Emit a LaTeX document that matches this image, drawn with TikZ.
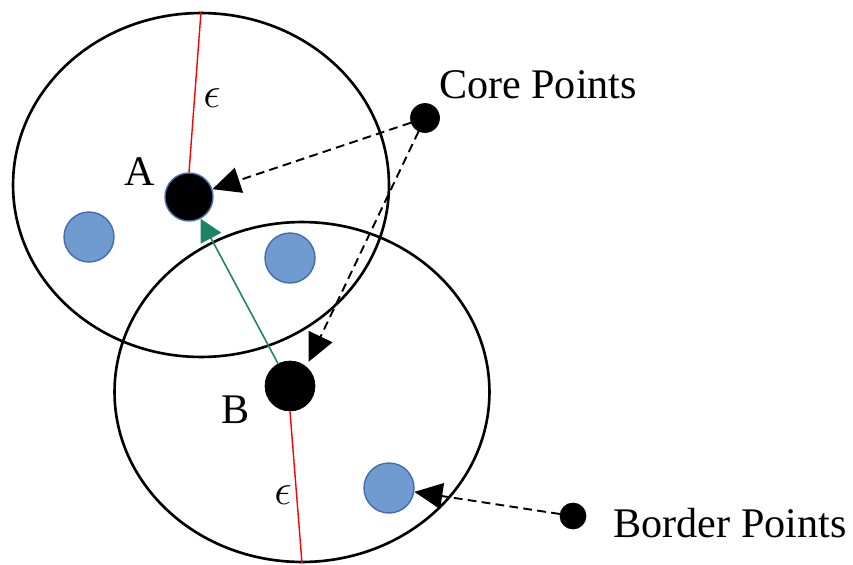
\documentclass[tikz,border=0pt]{standalone}
\usepackage{fontspec}
\setmainfont{Liberation Serif}
\usetikzlibrary{shapes.geometric, arrows.meta}

\begin{document}
\begin{tikzpicture}[
    x=0.02cm, y=-0.02cm,
    font=\fontsize{24}{28}\selectfont,
    region/.style={draw, ellipse, line width=1.5pt},
    core/.style={circle, fill=black, draw=black, inner sep=0pt},
    border/.style={circle, fill={rgb,255:red,111;green,155;blue,209}, draw={rgb,255:red,68;green,108;blue,168}, line width=0.8pt, minimum size=1.0cm, inner sep=0pt},
    radius/.style={red, line width=0.8pt},
    eps/.style={font=\fontsize{28}{30}\selectfont},
    link/.style={-{Triangle[length=0.44cm, width=0.46cm]}, line width=0.9pt, color={rgb,255:red,30;green,133;blue,100}},
    pointer/.style={-{Triangle[length=0.56cm, width=0.52cm]}, line width=1.1pt, dashed, dash pattern=on 5pt off 3pt}
]
\useasboundingbox (0,0) rectangle (853,565);

% Neighbourhoods
\node[region, minimum width=7.52cm, minimum height=6.88cm] (nbhdA) at (201,185) {};
\node[region, minimum width=7.5cm, minimum height=6.8cm] (nbhdB) at (302,392) {};

% Points
\node[core, draw={rgb,255:red,68;green,108;blue,168}, line width=0.8pt, minimum size=0.96cm] (A) at (189,197) {};
\node[core, minimum size=1.0cm] (B) at (290,386) {};
\node[border] (b1) at (89,237) {};
\node[border] (b2) at (290,258) {};
\node[border] (b3) at (389,488) {};
\node[core, minimum size=0.58cm] (corept) at (425,118) {};
\node[core, minimum size=0.52cm] (borderpt) at (573,516) {};

% Labels
\node (labA) at (140,172) {A};
\node (labB) at (236,410) {B};
\node[eps] (epsA) at (212,98) {$\epsilon$};
\node[eps] (epsB) at (283,495) {$\epsilon$};
\node (labCore) at (538,85) {Core Points};
\node (labBorder) at (730,523) {Border Points};

% Radii
\draw[radius] (nbhdA.north) -- (A.north);
\draw[radius] (B.south) -- (nbhdB.south);

% Arrows
\draw[link] (B) -- (A);
\draw[pointer] (corept) -- (A);
\draw[pointer, shorten >=3pt] (corept) -- (B.50);
\draw[pointer] (borderpt) -- (b3);

\end{tikzpicture}
\end{document}
